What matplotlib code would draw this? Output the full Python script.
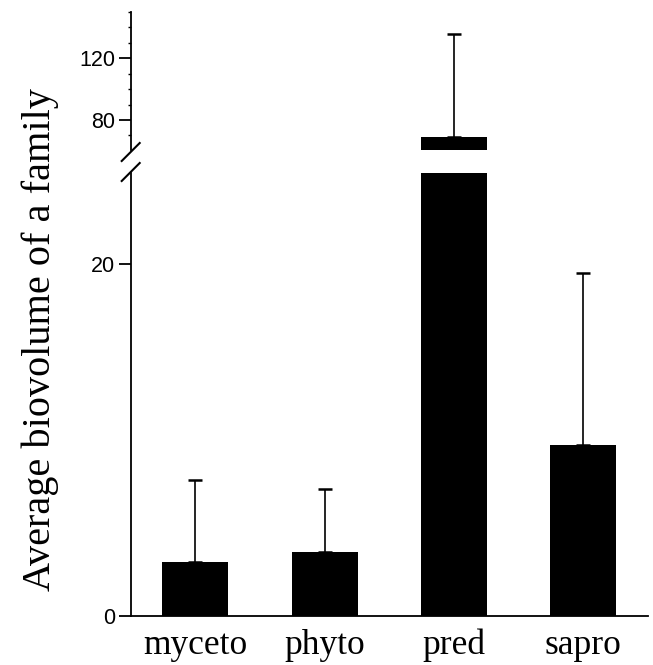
import numpy as np
import matplotlib.pyplot as plt

# values
groups = ["myceto", "phyto", "pred", "sapro"]
means = [3.1, 3.65, 69.0, 9.75]
errors = [4.65, 3.55, 67.0, 9.75]

low_lim = (0, 25.2)
high_lim = (60.5, 150)

x = np.arange(len(groups))

W, H = 653, 665
left, right = 130.7, 648
fig = plt.figure(figsize=(W / 100, H / 100), dpi=100)
ax_lo = fig.add_axes([left / W, 1 - 616 / H, (right - left) / W, (616 - 173) / H])
ax_hi = fig.add_axes([left / W, 1 - 150 / H, (right - left) / W, (150 - 12) / H])

for ax in (ax_lo, ax_hi):
    ax.bar(x, means, width=0.51, color="black", zorder=2)
    ax.errorbar(x, means, yerr=[np.zeros(len(means)), errors], fmt="none",
                ecolor="black", elinewidth=1.2, capsize=5, capthick=1.8, zorder=1)
    ax.set_xlim(-0.5, 3.5)
    for s in ("top", "right"):
        ax.spines[s].set_visible(False)
    ax.spines["left"].set_linewidth(1.3)
    ax.tick_params(axis="y", direction="out", length=9, width=1.3, labelsize=15.5, pad=2)

ax_lo.set_ylim(*low_lim)
ax_lo.set_yticks([0, 20])
ax_lo.spines["bottom"].set_linewidth(1.3)
ax_lo.tick_params(axis="x", length=0, pad=9)
ax_lo.set_xticks(x)
ax_lo.set_xticklabels(groups, fontsize=25.5, family="Liberation Serif")
for lbl in ax_lo.get_yticklabels():
    lbl.set_family("Liberation Sans")

ax_hi.set_ylim(*high_lim)
ax_hi.set_yticks([80, 120])
ax_hi.set_yticks(np.arange(70, 151, 10), minor=True)
ax_hi.tick_params(axis="y", which="minor", direction="out", length=2.5, width=1.0)
ax_hi.spines["bottom"].set_visible(False)
ax_hi.set_xticks([])
for lbl in ax_hi.get_yticklabels():
    lbl.set_family("Liberation Sans")

# break marks on the left spine
d = dict(color="black", lw=1.5, clip_on=False, transform=fig.transFigure)
x0 = left / W
for yb in (152, 172):
    yf = 1 - yb / H
    fig.add_artist(plt.Line2D([x0 - 9 / W, x0 + 9 / W], [yf - 9 / H, yf + 9 / H], **d))

fig.text(40 / W, 1 - 340 / H, "Average biovolume of a family", rotation=90,
         ha="center", va="center", fontsize=29, family="Liberation Serif")

fig.savefig("out.png", dpi=100)
